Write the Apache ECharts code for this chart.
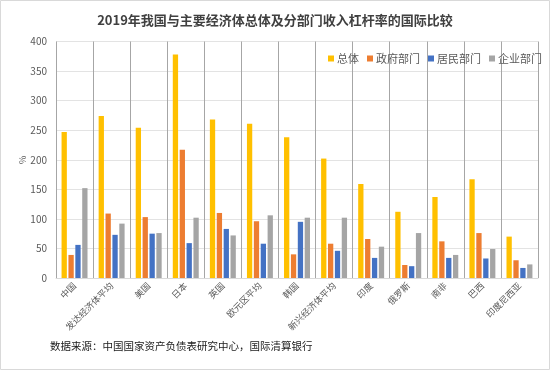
<!DOCTYPE html>
<html>
<head>
<meta charset="utf-8">
<script src="https://cdn.jsdelivr.net/npm/echarts@6/dist/echarts.min.js"></script>
<style>html,body{margin:0;padding:0;background:#fff;}#c{width:550px;height:371px;}</style>
</head>
<body>
<div id="c"></div>
<script>
const categories = ['中国','发达经济体平均','美国','日本','英国','欧元区平均','韩国','新兴经济体平均','印度','俄罗斯','南非','巴西','印度尼西亚'];
const total      = [247, 274, 254, 378, 268, 261, 238, 202, 159, 112, 137, 167, 70];
const government = [39, 109, 103, 217, 110, 96, 40, 58, 66, 22, 62, 76, 30];
const household  = [56, 73, 75, 59, 83, 58, 95, 46, 34, 20, 34, 33, 17];
const corporate  = [152, 92, 76, 102, 72, 106, 102, 102, 53, 76, 39, 49, 23];
const seriesNames = ['总体','政府部门','居民部门','企业部门'];
const yTicks = [0, 50, 100, 150, 200, 250, 300, 350, 400];

const FONT = '"Noto Sans CJK SC", "Noto Sans", sans-serif';
const colors = ['#FFC000', '#ED7D31', '#4472C4', '#A5A5A5'];
const dataSets = [total, government, household, corporate];

const chart = echarts.init(document.getElementById('c'), null, {renderer: 'canvas'});
chart.setOption({
  animation: false,
  textStyle: {fontFamily: FONT},
  title: {
    text: '2019年我国与主要经济体总体及分部门收入杠杆率的国际比较',
    left: 'center', top: 9,
    textStyle: {fontSize: 13, fontWeight: 'bold', color: '#404040', fontFamily: FONT}
  },
  legend: {
    data: seriesNames,
    left: 323, top: 48,
    itemWidth: 6, itemHeight: 6, itemGap: 8,
    icon: 'rect',
    textStyle: {fontSize: 11, color: '#595959', fontFamily: FONT, padding: [0, 0, 0, -2]}
  },
  grid: {left: 56, right: 12, top: 41.5, bottom: 93, containLabel: false},
  xAxis: {
    type: 'category',
    data: categories,
    boundaryGap: true,
    axisLine: {lineStyle: {color: '#d9d9d9'}},
    axisTick: {show: false},
    splitLine: {show: true, lineStyle: {color: '#a6a6a6', width: 1}},
    axisLabel: {rotate: 45, fontSize: 9, color: '#595959', margin: 6, interval: 0, fontFamily: FONT}
  },
  yAxis: {
    type: 'value',
    min: yTicks[0], max: yTicks[yTicks.length - 1], interval: yTicks[1] - yTicks[0],
    name: '%',
    nameLocation: 'middle',
    nameRotate: 90,
    nameGap: 29,
    nameMoveOverlap: false,
    nameTextStyle: {fontSize: 9, color: '#595959'},
    axisLine: {show: false},
    axisTick: {show: false},
    splitLine: {lineStyle: {color: '#e3e3e3'}},
    axisLabel: {fontSize: 10, color: '#595959', margin: 9, fontFamily: FONT}
  },
  series: seriesNames.map((n, i) => ({
    name: n,
    type: 'bar',
    data: dataSets[i],
    itemStyle: {color: colors[i]},
    barGap: '30%',
    barCategoryGap: '30%'
  })),
  graphic: [
    {
      type: 'rect',
      shape: {x: 0.5, y: 0.5, width: 549, height: 369},
      style: {fill: 'none', stroke: '#d9d9d9', lineWidth: 1},
      silent: true
    },
    {
      type: 'text',
      left: 50, top: 341,
      style: {text: '数据来源：中国国家资产负债表研究中心，国际清算银行', fontSize: 10.5, fill: '#1a1a1a', fontFamily: FONT}
    }
  ]
});
</script>
</body>
</html>
